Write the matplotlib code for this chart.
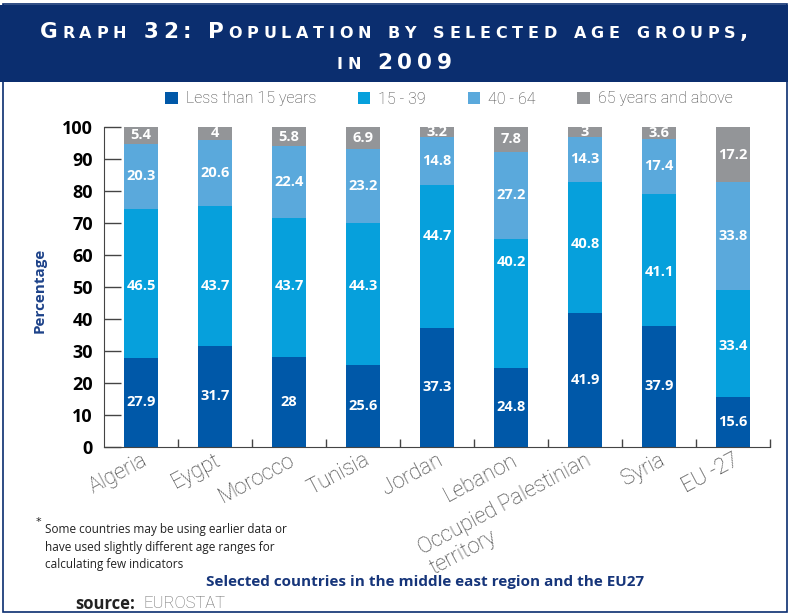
import matplotlib
matplotlib.use('Agg')
import matplotlib.pyplot as plt
from matplotlib.patches import Rectangle
import numpy as np

# Data
countries = ['Algeria', 'Eygpt', 'Morocco', 'Tunisia', 'Jordan', 'Lebanon',
             'Occupied Palestinian\nterritory', 'Syria', 'EU -27']
under_15 = [27.9, 31.7, 28, 25.6, 37.3, 24.8, 41.9, 37.9, 15.6]
age_15_39 = [46.5, 43.7, 43.7, 44.3, 44.7, 40.2, 40.8, 41.1, 33.4]
age_40_64 = [20.3, 20.6, 22.4, 23.2, 14.8, 27.2, 14.3, 17.4, 33.8]
over_65 = [5.4, 4, 5.8, 6.9, 3.2, 7.8, 3, 3.6, 17.2]
series_names = ['Less than 15 years', '15 - 39', '40 - 64', '65 years and above']
# where the 15-39 labels sit in the original (they are not centred there)
mid_label_at = [50.3, 50.3, 50.3, 50.3, 66, 57.8, 63.4, 54.7, 31.5]

colors = ['#0058a8', '#06a0dc', '#5aa9dc', '#939598']
navy = '#0b2e6f'

fig = plt.figure(figsize=(7.88, 6.16), dpi=100)
W, H = 788, 616

# frame + title banner
fig.patches.append(Rectangle((3 / W, 4 / H), 784 / W, 608 / H, transform=fig.transFigure,
                             fill=False, edgecolor=navy, linewidth=1.2))
fig.patches.append(Rectangle((0, 1 - 82 / H), 1, 77 / H, transform=fig.transFigure,
                             facecolor=navy, edgecolor='none'))

r = fig.canvas.get_renderer()


def char_width(ch, size, **kw):
    m1 = fig.text(0, 0, '|' + ch + '|', fontsize=size, **kw)
    m2 = fig.text(0, 0, '||', fontsize=size, **kw)
    w = m1.get_window_extent(r).width - m2.get_window_extent(r).width
    m1.remove()
    m2.remove()
    return w


def small_caps(s, y, big, small, tracking=None, fit=None, **kw):
    # fake small caps with letter spacing: lowercase drawn as smaller capitals
    chars = [(ch.upper(), small if ch.islower() else big) for ch in s]
    widths = [char_width(c, sz, **kw) for c, sz in chars]
    if fit is not None:
        tracking = (fit - sum(widths)) / (len(chars) - 1)
    total = sum(widths) + tracking * (len(chars) - 1)
    x = (W - total) / 2
    for (c, sz), w in zip(chars, widths):
        fig.text(x / W, y, c, fontsize=sz, va='baseline', **kw)
        x += w + tracking
    return tracking


title_kw = dict(color='white', fontweight='bold', family='DejaVu Sans')
trk = small_caps('Graph 32: Population by selected age groups,', 1 - 38 / H, 15.5, 11.5,
                 fit=708, **title_kw)
small_caps('in 2009', 1 - 69 / H, 15.5, 11.5, tracking=trk, **title_kw)

ax = fig.add_axes([104 / W, 1 - 447 / H, (770 - 104) / W, (447 - 127) / H])
x = np.arange(len(countries))
bw = 0.46
bottom = np.zeros(len(countries))
all_series = [under_15, age_15_39, age_40_64, over_65]
for k, (vals, c, name) in enumerate(zip(all_series, colors, series_names)):
    vals = np.array(vals, dtype=float)
    ax.bar(x, vals, bw, bottom=bottom, color=c, label=name, zorder=2)
    for i, v in enumerate(vals):
        yy = mid_label_at[i] if k == 1 else bottom[i] + v / 2
        ax.text(x[i], yy, f'{v:g}', ha='center', va='center', color='white',
                fontsize=10.5, fontweight='bold', family='Open Sans')
    bottom += vals

ax.set_xlim(-0.5, len(countries) - 0.5)
ax.set_ylim(0, 100)
ax.set_yticks(np.arange(0, 101, 10))
ax.tick_params(axis='y', direction='in', length=12, width=1, color='#444',
               labelsize=13, pad=8)
for lab in ax.get_yticklabels():
    lab.set_fontweight('bold')
    lab.set_family('Open Sans')
ax.set_xticks(x)
ax.set_xticks(np.arange(0.5, len(countries), 1), minor=True)
ax.tick_params(axis='x', which='major', length=0, pad=2)
ax.tick_params(axis='x', which='minor', direction='in', length=6, width=1, color='#444')
ax.set_xticklabels(countries, rotation=28, ha='right', va='top', rotation_mode='anchor',
                   fontsize=15.5, color='#333', family='Roboto', fontweight='light',
                   linespacing=1.15)
for lab in ax.get_xticklabels():
    lab.set_multialignment('left')
for s in ['top', 'right']:
    ax.spines[s].set_visible(False)
for s in ['left', 'bottom']:
    ax.spines[s].set_color('#444')

fig.text(40 / W, 1 - 290 / H, 'Percentage', rotation=90, ha='center', va='center',
         color='#1d4289', fontsize=11, fontweight='bold', family='Open Sans')

leg = fig.legend(loc='center', bbox_to_anchor=(449 / W, 1 - 99 / H), ncol=4,
                 frameon=False, handlelength=0.8, handleheight=0.8,
                 handletextpad=0.5, columnspacing=2.6,
                 prop={'family': 'Roboto', 'weight': 'light', 'size': 11.5})
for t in leg.get_texts():
    t.set_color('#444')

fig.text(38 / W, 1 - 522 / H, '*', fontsize=8, color='#222', ha='center', va='center')
fig.text(45 / W, 1 - 523 / H,
         'Some countries may be using earlier data or\n'
         'have used slightly different age ranges for\n'
         'calculating few indicators',
         fontsize=8.5, color='#222', ha='left', va='top', linespacing=1.45,
         family='Open Sans')
fig.text(425 / W, 1 - 582 / H, 'Selected countries in the middle east region and the EU27',
         ha='center', va='center', fontsize=11, fontweight='bold', color='#16357a',
         family='Open Sans')
fig.text(75 / W, 1 - 604 / H, 'source:', ha='left', va='center', fontsize=12,
         fontweight='bold', color='#222', family='Open Sans')
fig.text(143 / W, 1 - 604 / H, 'EUROSTAT', ha='left', va='center', fontsize=12,
         color='#666', family='Roboto', fontweight='light')

fig.savefig('out.png', dpi=100)
